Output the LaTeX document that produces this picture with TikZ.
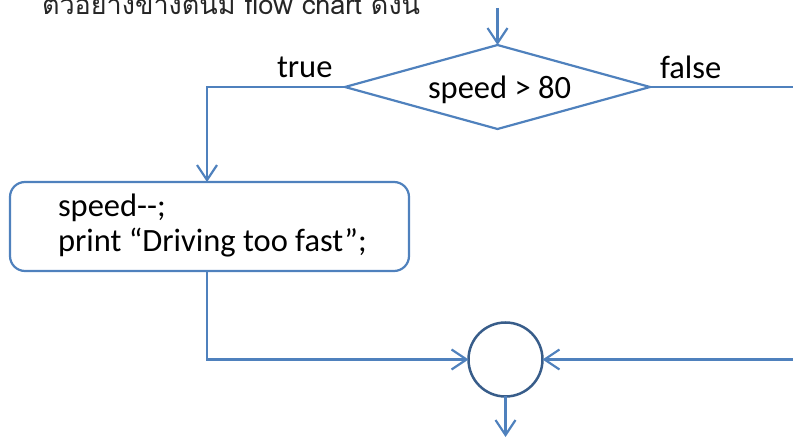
\documentclass[tikz,border=0pt]{standalone}
\usepackage{fontspec}
\setmainfont{Carlito}[Ligatures=NoCommon]
\newfontfamily\thaifont[Script=Thai]{Loma}
\usetikzlibrary{shapes.geometric,arrows.meta}
\definecolor{lineblue}{HTML}{4F81BD}
\definecolor{darkblue}{HTML}{385D8A}
\begin{document}
\begin{tikzpicture}[x=1pt,y=-1pt,
  every node/.style={inner sep=0pt,outer sep=0pt},
  conn/.style={draw=lineblue,line width=2.2pt},
  arr/.style={conn,-{Straight Barb[length=15pt,width=20pt,line width=2.2pt]}},
  txt/.style={font=\fontsize{32.5}{38}\selectfont,text=black,anchor=base west},
  decision/.style={diamond,draw=lineblue,line width=2.2pt,aspect=3.63,minimum width=305pt,minimum height=84pt},
  procbox/.style={rectangle,rounded corners=15pt,draw=lineblue,line width=2.2pt,minimum width=399pt,minimum height=89pt},
  joint/.style={circle,draw=darkblue,line width=2.5pt,minimum size=74pt}]
\useasboundingbox (0,0) rectangle (793,438);
\node[anchor=base west,font=\thaifont\fontsize{27}{33}\selectfont,text=black!85] (title) at (42,15) {ตัวอย่างข้างต้นมี flow chart ดังนี้};
\node[decision] (dia) at (497.5,87) {};
\node[txt] (cond) at (428,99) {speed > 80};
\node[procbox] (box) at (209.5,226.5) {};
\node[txt] (l1) at (58,217) {speed-{}-;};
\node[txt] (l2) at (58,252) {print “Driving too fast”;};
\node[joint] (circ) at (505.5,359.5) {};
\node[txt] (t) at (277,78) {true};
\node[txt] (f) at (660,79) {false};
\coordinate (in) at (497.5,8);
\coordinate (out) at (505.5,437);
\coordinate (fr) at (805,87);
\draw[arr] (in) -- (dia.north);
\draw[arr] (dia.west) -| ([xshift=-2.5pt]box.north);
\draw[arr] (dia.east) -- (fr) |- (circ.east);
\draw[arr] ([xshift=-2.5pt]box.south) |- (circ.west);
\draw[arr] (circ.south) -- (out);
\end{tikzpicture}
\end{document}
